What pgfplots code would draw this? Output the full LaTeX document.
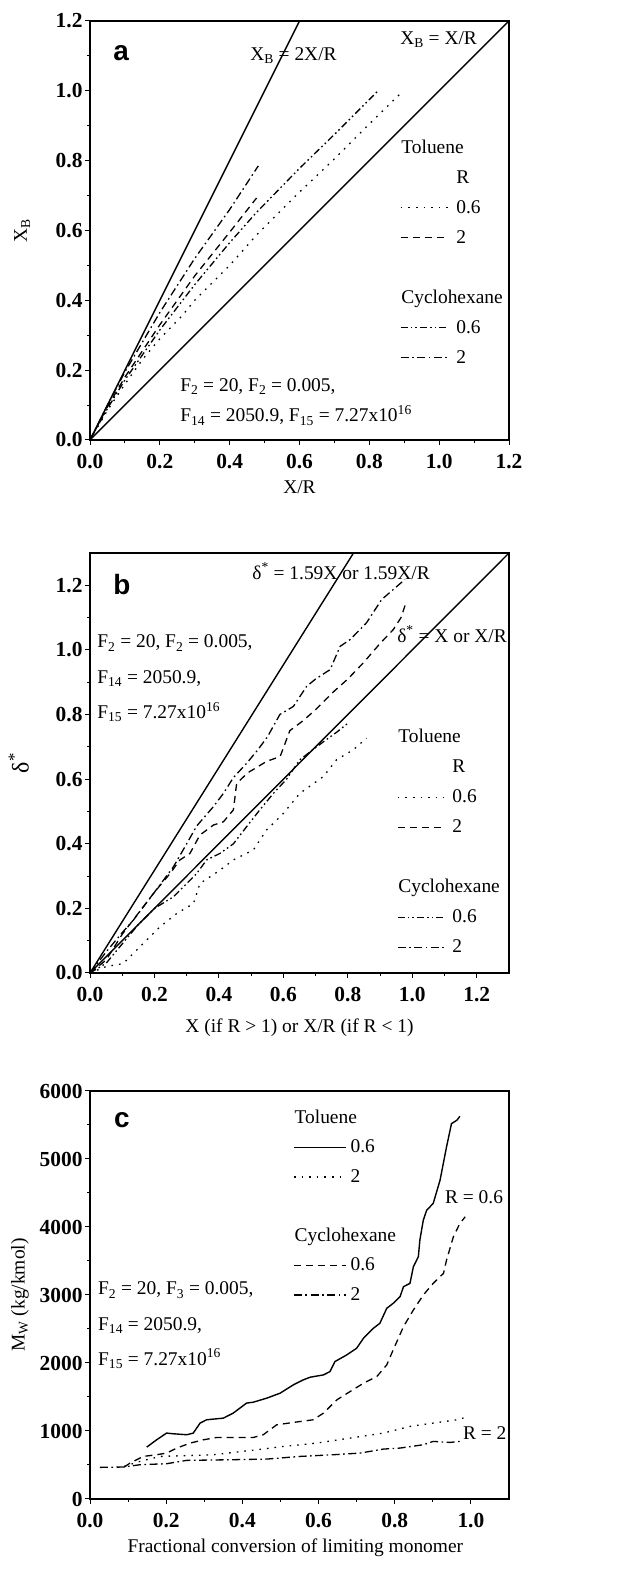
\documentclass[border=0pt]{standalone}
\usepackage{fontspec}
\setmainfont{Liberation Serif}
\newfontfamily\sansfont{Liberation Sans}
\usepackage{pgfplots}
\pgfplotsset{compat=1.18}

\tikzset{
 dotl/.style={line width=1.3bp, dash pattern=on 1.6bp off 6bp},
 dashl/.style={line width=1.3bp, dash pattern=on 7bp off 5bp},
 ddotl/.style={line width=1.3bp, dash pattern=on 7bp off 3bp on 1.6bp off 3bp on 1.6bp off 3bp},
 dotdl/.style={line width=1.3bp, dash pattern=on 8bp off 3.5bp on 1.6bp off 3.5bp},
 soll/.style={line width=1.4bp},
}
\newcommand{\txt}{\fontsize{19.5}{22}\selectfont}
\pgfplotsset{
 panel/.style={
  scale only axis, width=419bp, clip=false,
  axis line style={line width=1.1bp},
  tick align=outside, xtick pos=left, ytick pos=left,
  major tick length=5bp, minor tick length=3bp,
  every tick/.style={line width=1bp, black},
  minor tick num=1,
  tick label style={font=\fontsize{21.5}{23}\selectfont\bfseries},
  xticklabel style={yshift=-6bp},
  yticklabel style={xshift=1bp},
  /pgf/number format/assume math mode=true,
  /pgf/number format/fixed, /pgf/number format/fixed zerofill,
  /pgf/number format/precision=1,
  label style={font=\txt},
  legend cell align=left,
  legend image code/.code={\draw[##1] (0bp,0.5bp) -- (47bp,0.5bp);},
 },
 lgd/.style={legend style={draw=none, fill=none, at={(rel axis cs:#1)}, anchor=north west,
   inner sep=0pt, outer sep=0pt, row sep=12bp, column sep=8bp, font=\txt,
   nodes={inner sep=0pt, text height=14bp, text depth=4bp}}},
}

\begin{document}
\begin{tikzpicture}
\useasboundingbox (0,0) rectangle (643bp,1577bp);

% ---------------- panel a ----------------
\begin{axis}[panel, at={(90bp,1137bp)}, anchor=south west, height=419bp,
  xmin=0, xmax=1.2, ymin=0, ymax=1.2,
  xtick={0,0.2,...,1.21}, ytick={0,0.2,...,1.21},
  xlabel={X/R}, ylabel={X\textsubscript{B}},
  xlabel style={at={(rel axis cs:0.5,-0.112)}, anchor=center},
  ylabel style={at={(rel axis cs:-0.162,0.5)}, anchor=center},
  lgd={0.74,0.718}]
\addplot[soll, forget plot] coordinates {(0,0) (0.6,1.2)};
\addplot[soll, forget plot] coordinates {(0,0) (1.2,1.2)};
\addplot[dotl, forget plot] coordinates {(0,0) (0.05,0.085) (0.1,0.16) (0.15,0.23) (0.2,0.29) (0.263,0.355) (0.3,0.40) (0.4,0.50) (0.477,0.587) (0.6,0.71) (0.7,0.805) (0.8,0.905) (0.897,1.0)};
\addplot[dashl, forget plot] coordinates {(0,0) (0.05,0.095) (0.1,0.18) (0.2,0.33) (0.3,0.47) (0.4,0.595) (0.477,0.693)};
\addplot[ddotl, forget plot] coordinates {(0,0) (0.05,0.09) (0.1,0.172) (0.2,0.315) (0.3,0.445) (0.4,0.565) (0.477,0.652) (0.6,0.778) (0.7,0.875) (0.825,1.0)};
\addplot[dotdl, forget plot] coordinates {(0,0) (0.05,0.1) (0.1,0.195) (0.2,0.365) (0.3,0.52) (0.4,0.66) (0.482,0.785)};
\addlegendimage{empty legend}\addlegendentry{\hspace*{-55bp}Toluene}
\addlegendimage{empty legend}\addlegendentry{R}
\addlegendimage{dotl}\addlegendentry{0.6}
\addlegendimage{dashl}\addlegendentry{2}
\addlegendimage{empty legend}\addlegendentry{}
\addlegendimage{empty legend}\addlegendentry{\hspace*{-55bp}Cyclohexane}
\addlegendimage{ddotl}\addlegendentry{0.6}
\addlegendimage{dotdl}\addlegendentry{2}
\node[anchor=center, font=\fontsize{28}{30}\selectfont\sansfont\bfseries] at (rel axis cs:0.074,0.924) {a};
\node[anchor=base west, font=\txt, inner sep=0pt] at (rel axis cs:0.382,0.905) {X\textsubscript{B} = 2X/R};
\node[anchor=base west, font=\txt, inner sep=0pt] at (rel axis cs:0.74,0.943) {X\textsubscript{B} = X/R};
\node[anchor=base west, font=\txt, inner sep=0pt] at (rel axis cs:0.215,0.115) {F\textsubscript{2} = 20, F\textsubscript{2} = 0.005,};
\node[anchor=base west, font=\txt, inner sep=0pt] at (rel axis cs:0.215,0.043) {F\textsubscript{14} = 2050.9, F\textsubscript{15} = 7.27x10\textsuperscript{16}};
\end{axis}

% ---------------- panel b ----------------
\begin{axis}[panel, at={(90bp,604bp)}, anchor=south west, height=420bp,
  xmin=0, xmax=1.3, ymin=0, ymax=1.3,
  xtick={0,0.2,...,1.21}, ytick={0,0.2,...,1.21},
  xlabel={X (if R > 1) or X/R (if R < 1)},
  ylabel={\fontsize{24}{26}\selectfont δ\textsuperscript{*}},
  xlabel style={at={(rel axis cs:0.5,-0.131)}, anchor=center},
  ylabel style={at={(rel axis cs:-0.17,0.5)}, anchor=center},
  legend image code/.code={\draw[#1] (0bp,0.5bp) -- (46bp,0.5bp);},
  lgd={0.733,0.581}]
\addplot[soll, forget plot] coordinates {(0,0) (0.8176,1.3)};
\addplot[soll, forget plot] coordinates {(0,0) (1.3,1.3)};
% Cyclohexane R=2 (dash-dot)
\addplot[dotdl, forget plot] coordinates {(0,0) (0.05,0.065) (0.1,0.125) (0.134,0.163) (0.2,0.25) (0.259,0.329) (0.30,0.40) (0.331,0.455) (0.383,0.515) (0.414,0.556) (0.445,0.605) (0.486,0.649) (0.52,0.69) (0.55,0.73) (0.589,0.80) (0.631,0.825) (0.672,0.887) (0.70,0.91) (0.745,0.939) (0.776,1.011) (0.807,1.032) (0.858,1.084) (0.905,1.156) (0.941,1.187) (0.977,1.218)};
% Toluene R=2 (dashed)
\addplot[dashl, forget plot] coordinates {(0,0) (0.05,0.04) (0.1,0.12) (0.15,0.185) (0.2,0.25) (0.25,0.31) (0.279,0.35) (0.31,0.37) (0.341,0.427) (0.383,0.458) (0.414,0.468) (0.445,0.505) (0.455,0.587) (0.49,0.62) (0.548,0.655) (0.59,0.67) (0.62,0.75) (0.66,0.78) (0.70,0.815) (0.755,0.87) (0.80,0.91) (0.848,0.96) (0.90,1.02) (0.941,1.063) (0.965,1.10) (0.982,1.151)};
% Toluene R=0.6 (dotted)
\addplot[dotl, forget plot] coordinates {(0,0) (0.05,0.02) (0.103,0.029) (0.155,0.081) (0.217,0.143) (0.269,0.184) (0.321,0.215) (0.341,0.277) (0.403,0.318) (0.445,0.35) (0.507,0.381) (0.548,0.443) (0.60,0.494) (0.651,0.556) (0.724,0.608) (0.765,0.66) (0.817,0.691) (0.858,0.727)};
% Cyclohexane R=0.6 (dash-dot-dot)
\addplot[ddotl, forget plot] coordinates {(0,0) (0.05,0.03) (0.1,0.09) (0.15,0.15) (0.2,0.2) (0.259,0.236) (0.331,0.308) (0.362,0.35) (0.403,0.37) (0.445,0.40) (0.486,0.453) (0.527,0.505) (0.569,0.556) (0.61,0.60) (0.651,0.66) (0.69,0.69) (0.73,0.72) (0.765,0.745) (0.80,0.773)};
\addlegendimage{empty legend}\addlegendentry{\hspace*{-54bp}Toluene}
\addlegendimage{empty legend}\addlegendentry{R}
\addlegendimage{dotl}\addlegendentry{0.6}
\addlegendimage{dashl}\addlegendentry{2}
\addlegendimage{empty legend}\addlegendentry{}
\addlegendimage{empty legend}\addlegendentry{\hspace*{-54bp}Cyclohexane}
\addlegendimage{ddotl}\addlegendentry{0.6}
\addlegendimage{dotdl}\addlegendentry{2}
\node[anchor=center, font=\fontsize{28}{30}\selectfont\sansfont\bfseries] at (rel axis cs:0.076,0.924) {b};
\node[anchor=base west, font=\txt, inner sep=0pt] at (rel axis cs:0.387,0.938) {δ\textsuperscript{*} = 1.59X or 1.59X/R};
\node[anchor=base west, font=\txt, inner sep=0pt] at (rel axis cs:0.733,0.788) {δ\textsuperscript{*} = X or X/R};
\node[anchor=base west, font=\txt, inner sep=0pt] at (rel axis cs:0.017,0.774) {F\textsubscript{2} = 20, F\textsubscript{2} = 0.005,};
\node[anchor=base west, font=\txt, inner sep=0pt] at (rel axis cs:0.017,0.690) {F\textsubscript{14} = 2050.9,};
\node[anchor=base west, font=\txt, inner sep=0pt] at (rel axis cs:0.017,0.605) {F\textsubscript{15} = 7.27x10\textsuperscript{16}};
\end{axis}

% ---------------- panel c ----------------
\begin{axis}[panel, at={(90bp,78bp)}, anchor=south west, height=408bp,
  xmin=0, xmax=1.1, ymin=0, ymax=6000,
  xtick={0,0.2,...,1.01}, ytick={0,1000,...,6000},
  yticklabel style={/pgf/number format/fixed zerofill=false, /pgf/number format/precision=0, /pgf/number format/1000 sep={}},
  xlabel={Fractional conversion of limiting monomer},
  ylabel={M\textsubscript{W} (kg/kmol)},
  xlabel style={at={(rel axis cs:0.49,-0.12)}, anchor=center},
  ylabel style={at={(rel axis cs:-0.167,0.5)}, anchor=center},
  legend image code/.code={\draw[#1] (0bp,0.5bp) -- (52bp,0.5bp);},
  lgd={0.485,0.955},
  legend style={column sep=4bp, row sep=11.5bp}]
% Toluene R=0.6 (solid)
\addplot[soll, forget plot] coordinates {(0.149,763) (0.175,871) (0.201,969) (0.219,959) (0.254,945) (0.271,969) (0.289,1116) (0.306,1165) (0.35,1189) (0.376,1263) (0.411,1410) (0.429,1424) (0.464,1483) (0.499,1556) (0.534,1679) (0.56,1752) (0.578,1791) (0.613,1825) (0.630,1874) (0.643,2021) (0.674,2119) (0.70,2217) (0.718,2364) (0.744,2511) (0.761,2584) (0.779,2804) (0.796,2878) (0.814,2976) (0.823,3122) (0.840,3171) (0.849,3416) (0.862,3563) (0.866,3808) (0.875,4101) (0.884,4248) (0.901,4346) (0.919,4689) (0.936,5178) (0.949,5520) (0.963,5569) (0.971,5628)};
% Toluene R=2 (dotted)
\addplot[dotl, forget plot] coordinates {(0.09,480) (0.131,553) (0.184,626) (0.324,651) (0.438,724) (0.508,773) (0.595,822) (0.683,896) (0.770,969) (0.84,1067) (0.901,1116) (0.963,1165) (0.989,1204)};
% Cyclohexane R=0.6 (dashed)
\addplot[dashl, forget plot] coordinates {(0.09,470) (0.105,528) (0.14,626) (0.175,651) (0.201,675) (0.228,749) (0.263,822) (0.298,871) (0.333,905) (0.376,905) (0.429,905) (0.455,945) (0.49,1091) (0.534,1126) (0.586,1165) (0.613,1263) (0.648,1458) (0.683,1581) (0.718,1703) (0.753,1801) (0.779,1972) (0.796,2193) (0.823,2535) (0.849,2780) (0.875,3000) (0.901,3171) (0.928,3318) (0.936,3514) (0.954,3857) (0.971,4052) (0.985,4150)};
% Cyclohexane R=2 (dash-dot)
\addplot[dotdl, forget plot] coordinates {(0.026,465) (0.088,470) (0.131,504) (0.201,519) (0.254,568) (0.376,578) (0.464,587) (0.551,626) (0.639,651) (0.709,675) (0.770,734) (0.814,749) (0.875,798) (0.901,847) (0.945,832) (0.971,847)};
\addlegendimage{empty legend}\addlegendentry{\hspace*{-56bp}Toluene}
\addlegendimage{soll}\addlegendentry{0.6}
\addlegendimage{dotl}\addlegendentry{2}
\addlegendimage{empty legend}\addlegendentry{}
\addlegendimage{empty legend}\addlegendentry{\hspace*{-56bp}Cyclohexane}
\addlegendimage{dashl}\addlegendentry{0.6}
\addlegendimage{dotdl}\addlegendentry{2}
\node[anchor=center, font=\fontsize{28}{30}\selectfont\sansfont\bfseries] at (rel axis cs:0.076,0.929) {c};
\node[anchor=base west, font=\txt, inner sep=0pt] at (rel axis cs:0.847,0.725) {R = 0.6};
\node[anchor=base west, font=\txt, inner sep=0pt] at (rel axis cs:0.89,0.145) {R = 2};
\node[anchor=base west, font=\txt, inner sep=0pt] at (rel axis cs:0.019,0.50) {F\textsubscript{2} = 20, F\textsubscript{3} = 0.005,};
\node[anchor=base west, font=\txt, inner sep=0pt] at (rel axis cs:0.019,0.414) {F\textsubscript{14} = 2050.9,};
\node[anchor=base west, font=\txt, inner sep=0pt] at (rel axis cs:0.019,0.328) {F\textsubscript{15} = 7.27x10\textsuperscript{16}};
\end{axis}
\end{tikzpicture}
\end{document}
